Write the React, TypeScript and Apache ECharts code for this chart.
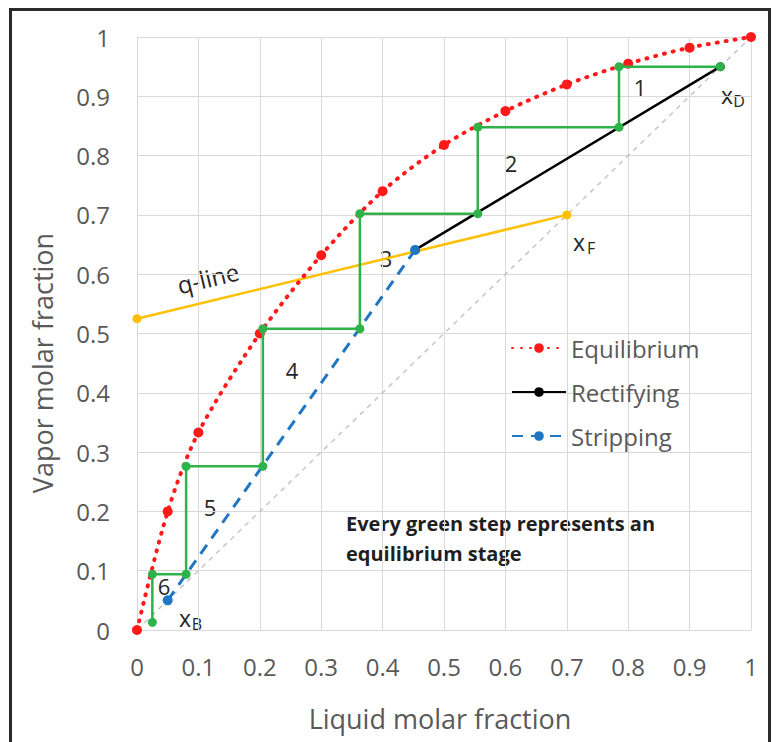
import React, { useEffect, useRef } from "react";
import * as echarts from "echarts";

// ---- data ----
const eqX = [0, 0.05, 0.1, 0.2, 0.3, 0.4, 0.5, 0.6, 0.7, 0.8, 0.9, 1];
const eqY = [0, 0.2, 0.333, 0.5, 0.632, 0.74, 0.818, 0.875, 0.92, 0.955, 0.982, 1];

const rectX = [0.453, 0.95];
const rectY = [0.641, 0.95];

const stripX = [0.05, 0.453];
const stripY = [0.05, 0.641];

const qX = [0, 0.7];
const qY = [0.525, 0.7];

const diagX = [0, 1];
const diagY = [0, 1];

const stepX = [0.95, 0.785, 0.785, 0.555, 0.555, 0.363, 0.363, 0.205, 0.205, 0.08, 0.08, 0.025, 0.025];
const stepY = [0.95, 0.95, 0.848, 0.848, 0.702, 0.702, 0.508, 0.508, 0.276, 0.276, 0.094, 0.094, 0.013];

const stageLabels = ["1", "2", "3", "4", "5", "6"];
const legendNames = ["Equilibrium", "Rectifying", "Stripping"];
const noteLines = ["Every green step represents an", "equilibrium stage"];

const zip = (xs: number[], ys: number[]) => xs.map((x, i) => [x, ys[i]]);

const FONT = "'Open Sans', 'Noto Sans', sans-serif";
const AXIS_GRAY = "#595959";
const GRID_GRAY = "#d9d9d9";

export default function App() {
  const ref = useRef<HTMLDivElement>(null);

  useEffect(() => {
    if (!ref.current) return;
    const chart = echarts.init(ref.current, undefined, { renderer: "svg" });

    // annotation positions in pixels
    const stagePos = [
      [640, 87],
      [511, 163],
      [386, 258],
      [292, 370],
      [210, 507],
      [164, 586],
    ];

    const annText = (text: string, x: number, y: number, size = 22) => ({
      type: "text",
      x,
      y,
      silent: true,
      style: {
        text,
        fontFamily: FONT,
        fontSize: size,
        fill: "#262626",
        align: "center",
        verticalAlign: "middle",
      },
    });

    const graphics: any[] = [
      // outer frame
      {
        type: "rect",
        shape: { x: 10.5, y: 9.5, width: 759, height: 800 },
        style: { fill: "none", stroke: "#2b2b2b", lineWidth: 3 },
        silent: true,
        z: 100,
      },
      // axis titles
      {
        type: "text",
        x: 42,
        y: 363,
        rotation: Math.PI / 2,
        silent: true,
        style: {
          text: "Vapor molar fraction",
          fontFamily: FONT,
          fontSize: 27,
          fill: AXIS_GRAY,
          align: "center",
          verticalAlign: "middle",
        },
      },
      {
        type: "text",
        x: 440,
        y: 718,
        silent: true,
        style: {
          text: "Liquid molar fraction",
          fontFamily: FONT,
          fontSize: 27,
          fill: AXIS_GRAY,
          align: "center",
          verticalAlign: "middle",
        },
      },
      ...stageLabels.map((s, i) => annText(s, stagePos[i][0], stagePos[i][1], 22)),
      // x_D, x_F, x_B
      annText("x", 727, 95, 23),
      annText("D", 739, 101, 16),
      annText("x", 579, 242, 23),
      annText("F", 591, 248, 16),
      annText("x", 185, 618, 23),
      annText("B", 197, 624, 16),
      // q-line label
      {
        type: "text",
        x: 208,
        y: 278,
        rotation: (13.5 * Math.PI) / 180,
        silent: true,
        style: {
          text: "q-line",
          fontFamily: FONT,
          fontSize: 24,
          fill: "#262626",
          align: "center",
          verticalAlign: "middle",
        },
      },
      ...noteLines.map((t, i) => ({
        type: "text",
        x: 346,
        y: 523 + i * 30,
        silent: true,
        style: {
          text: t,
          fontFamily: FONT,
          fontSize: 20,
          fontWeight: "bold",
          fill: "#1f1f1f",
          align: "left",
          verticalAlign: "middle",
        },
      })),
    ];

    chart.setOption({
      animation: false,
      backgroundColor: "#ffffff",
      textStyle: { fontFamily: FONT },
      grid: { left: 137, right: 27, top: 37, bottom: 112, containLabel: false },
      legend: {
        data: legendNames,
        orient: "vertical",
        left: 506,
        top: 331,
        itemWidth: 54,
        itemHeight: 12,
        itemGap: 20,
        textStyle: { fontFamily: FONT, fontSize: 24, color: AXIS_GRAY },
      },
      xAxis: {
        type: "value",
        min: 0,
        max: 1,
        interval: 0.1,
        axisLine: { show: true, lineStyle: { color: GRID_GRAY } },
        axisTick: { show: false },
        splitLine: { show: true, lineStyle: { color: GRID_GRAY, width: 1 } },
        axisLabel: { color: AXIS_GRAY, fontSize: 24, fontFamily: FONT, margin: 24 },
      },
      yAxis: {
        type: "value",
        min: 0,
        max: 1,
        interval: 0.1,
        axisLine: { show: true, lineStyle: { color: GRID_GRAY } },
        axisTick: { show: false },
        splitLine: { show: true, lineStyle: { color: GRID_GRAY, width: 1 } },
        axisLabel: { color: AXIS_GRAY, fontSize: 24, fontFamily: FONT, margin: 27 },
      },
      series: [
        {
          name: "diagonal",
          type: "line",
          data: zip(diagX, diagY),
          symbol: "none",
          silent: true,
          lineStyle: { color: "#c6c6c6", width: 1.5, type: [5, 5] },
          z: 1,
        },
        {
          name: "q-line",
          type: "line",
          data: zip(qX, qY),
          symbol: "circle",
          symbolSize: 9,
          itemStyle: { color: "#ffc000" },
          lineStyle: { color: "#ffc000", width: 2.5 },
          z: 2,
        },
        {
          name: "Equilibrium",
          type: "line",
          data: zip(eqX, eqY),
          smooth: 0.3,
          symbol: "circle",
          symbolSize: 10,
          itemStyle: { color: "#ff1a1a" },
          lineStyle: { color: "#ff1a1a", width: 4, type: [1, 8], cap: "round" },
          z: 3,
        },
        {
          name: "Rectifying",
          type: "line",
          data: zip(rectX, rectY),
          symbol: "circle",
          symbolSize: 9,
          itemStyle: { color: "#000000" },
          lineStyle: { color: "#000000", width: 2.5 },
          z: 4,
        },
        {
          name: "Stripping",
          type: "line",
          data: zip(stripX, stripY),
          symbol: "circle",
          symbolSize: 10,
          itemStyle: { color: "#1f76c2" },
          lineStyle: { color: "#1f76c2", width: 3, type: [11, 8] },
          z: 5,
        },
        {
          name: "steps",
          type: "line",
          data: zip(stepX, stepY),
          symbol: "circle",
          symbolSize: 9,
          itemStyle: { color: "#2db34a" },
          lineStyle: { color: "#2db34a", width: 2.5 },
          z: 6,
        },
      ],
      graphic: graphics,
    });

    return () => chart.dispose();
  }, []);

  return (
    <div
      ref={ref}
      style={{ position: "fixed", left: 0, top: 0, width: 778, height: 742, background: "#fff" }}
    />
  );
}
